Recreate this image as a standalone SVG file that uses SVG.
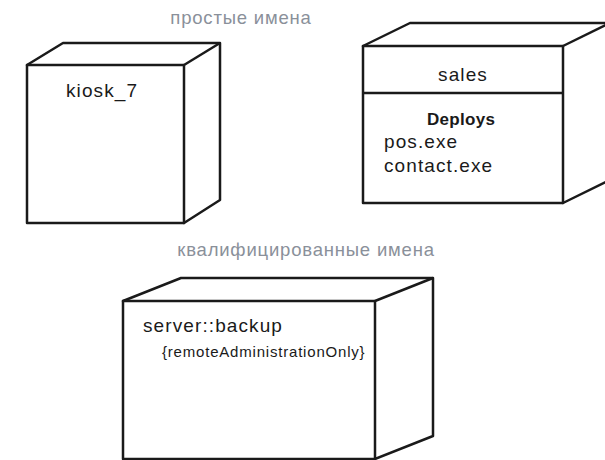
<svg xmlns="http://www.w3.org/2000/svg" width="605" height="460" viewBox="0 0 605 460">
<style>
.box{fill:#fff;stroke:#1a1a1a;stroke-width:2.5;stroke-linejoin:round}
.edge{fill:none;stroke:#1a1a1a;stroke-width:2.5;stroke-linejoin:round}
.t{font-family:"Liberation Sans",Arial,sans-serif;fill:#1a1a1a;font-size:19px;letter-spacing:1.1px}
.b{font-family:"Liberation Sans",Arial,sans-serif;fill:#1a1a1a;font-size:17px;font-weight:bold;letter-spacing:0.3px}
.s{font-family:"Liberation Sans",Arial,sans-serif;fill:#1a1a1a;font-size:15px;letter-spacing:0.8px}
.g{font-family:"Liberation Sans",Arial,sans-serif;fill:#8a909a;font-size:18.5px;text-anchor:middle;letter-spacing:0.8px}
</style>
<rect width="605" height="460" fill="#fff"/>
<text class="g" x="241" y="24">простые имена</text>
<text class="g" x="306" y="256">квалифицированные имена</text>
<g id="kiosk_7">
<path class="box" d="M27,65 L63,43 L220,43 L220,200 L184,223 Z"/>
<path class="edge" d="M184,65 L220,43"/>
<rect class="box" x="27" y="65" width="157" height="158"/>
<text class="t" x="66" y="97">kiosk_7</text>
</g>
<g id="sales">
<path class="box" d="M363,46 L410,23 L610,23 L610,180 L563,203 Z"/>
<path class="edge" d="M563,46 L610,23"/>
<rect class="box" x="363" y="46" width="200" height="157"/>
<line class="edge" x1="363" y1="93" x2="563" y2="93"/>
<text class="t" x="463" y="81" text-anchor="middle">sales</text>
<text class="b" x="427" y="125">Deploys</text>
<text class="t" x="384" y="148">pos.exe</text>
<text class="t" x="384" y="172">contact.exe</text>
</g>
<g id="server_backup">
<path class="box" d="M123,301 L181,278 L433,278 L433,436 L375,459 Z"/>
<path class="edge" d="M375,301 L433,278"/>
<rect class="box" x="123" y="301" width="252" height="158"/>
<text class="t" x="143" y="332">server::backup</text>
<text class="s" x="162" y="357">{remoteAdministrationOnly}</text>
</g>
<g id="connectors"/>
</svg>
